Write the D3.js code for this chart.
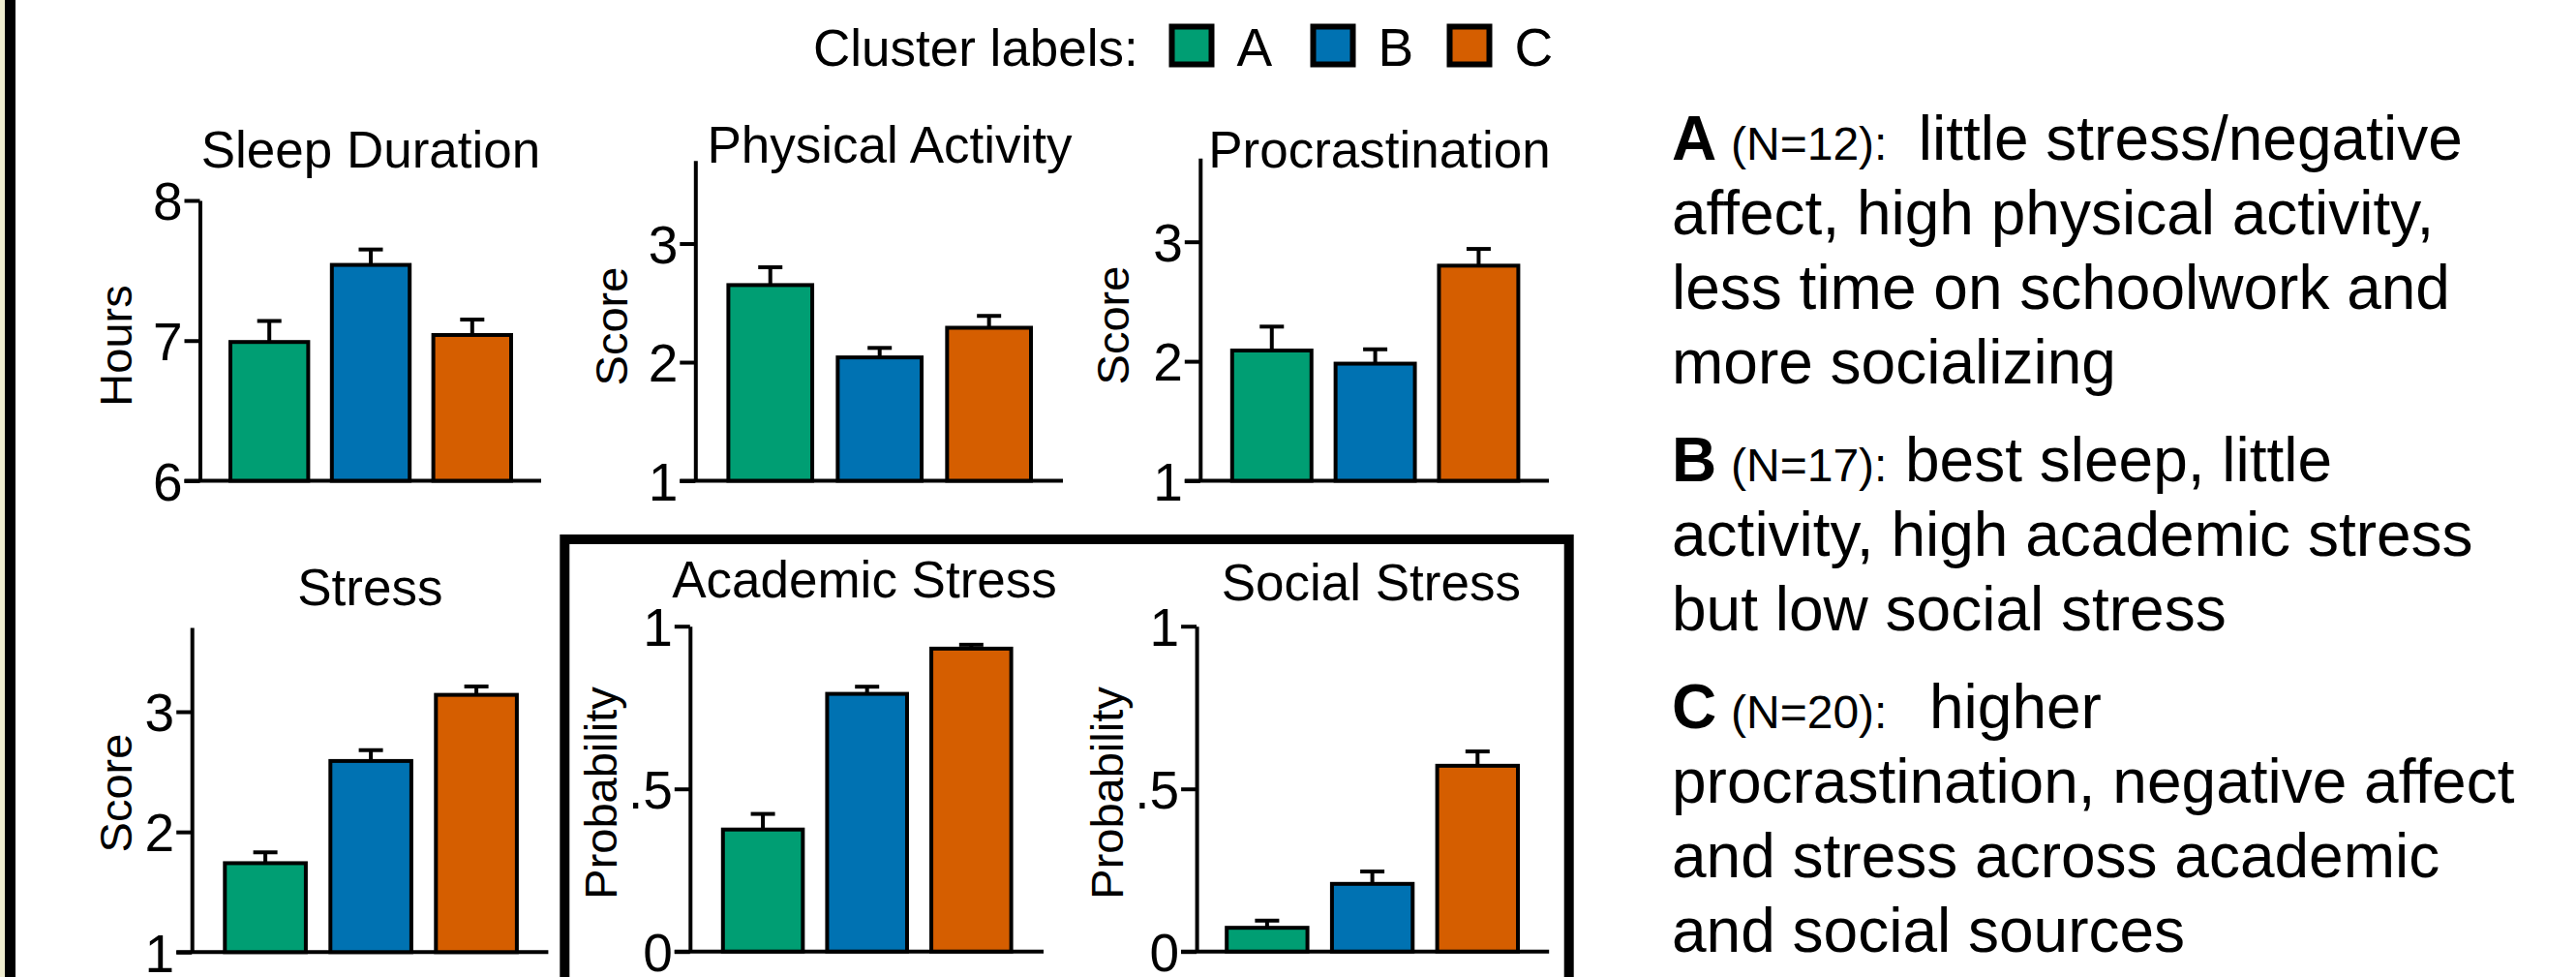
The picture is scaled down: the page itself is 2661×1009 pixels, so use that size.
<!DOCTYPE html>
<html>
<head>
<meta charset="utf-8">
<script src="https://cdn.jsdelivr.net/npm/d3@7"></script>
<style>
  html, body { margin: 0; padding: 0; background: #ffffff; }
  svg { display: block; font-family: "Liberation Sans", Arial, Helvetica, sans-serif; }
  .axis path, .axis line { stroke: #000; stroke-width: 4; }
  .axis text { fill: #000; font-size: 55px; }
</style>
</head>
<body>
<svg id="fig" width="2661" height="1009"></svg>
<script>
// ---- data ---------------------------------------------------------------
const clusters = ["A", "B", "C"];
const clusterSizes = [12, 17, 20];

// group means and standard errors, one entry per cluster (A, B, C)
const sleepHours = [6.99, 7.54, 7.04];
const sleepSem = [0.15, 0.11, 0.11];
const activityScore = [2.65, 2.04, 2.29];
const activitySem = [0.15, 0.08, 0.10];
const procrastinationScore = [2.09, 1.98, 2.80];
const procrastinationSem = [0.20, 0.12, 0.14];
const stressScore = [1.74, 2.59, 3.14];
const stressSem = [0.09, 0.09, 0.07];
const academicStressProb = [0.375, 0.792, 0.931];
const academicStressSem = [0.048, 0.022, 0.012];
const socialStressProb = [0.073, 0.208, 0.571];
const socialStressSem = [0.022, 0.038, 0.044];

// axis ticks
const hourTicks = [6, 7, 8];
const scoreTicks = [1, 2, 3];
const probTicks = [0, 0.5, 1];

// cluster descriptions: first line follows the "X (N=..):" lead-in
const clusterNotes = [
  ["little stress/negative", "affect, high physical activity,", "less time on schoolwork and", "more socializing"],
  ["best sleep, little", "activity, high academic stress", "but low social stress"],
  ["higher", "procrastination, negative affect", "and stress across academic", "and social sources"]
];

// ---- styling / layout ---------------------------------------------------
const palette = { A: "#009e73", B: "#0072b2", C: "#d55e00" };
const fmtPlain = d => String(d);
const fmtProb = d => String(d).replace(/^0\./, ".");

const panels = [
  { title: "Sleep Duration", label: "Hours", means: sleepHours, sems: sleepSem,
    domain: [6, 8], ticks: hourTicks, fmt: fmtPlain,
    L: { axisX: 206.5, yBottom: 496.5, yTop: 207, barL: 238, barR: 528, xEnd: 559,
         titleX: 383, titleY: 173, labelX: 120, labelY: 357 } },
  { title: "Physical Activity", label: "Score", means: activityScore, sems: activitySem,
    domain: [1, 3.7], ticks: scoreTicks, fmt: fmtPlain,
    L: { axisX: 718.3, yBottom: 496.5, yTop: 165.8, barL: 752.4, barR: 1065, xEnd: 1098,
         titleX: 919, titleY: 168, labelX: 632, labelY: 337 } },
  { title: "Procrastination", label: "Score", means: procrastinationScore, sems: procrastinationSem,
    domain: [1, 3.7], ticks: scoreTicks, fmt: fmtPlain,
    L: { axisX: 1239.8, yBottom: 496.5, yTop: 163.3, barL: 1272.8, barR: 1568.4, xEnd: 1600,
         titleX: 1425, titleY: 172.7, labelX: 1150, labelY: 336 } },
  { title: "Stress", label: "Score", means: stressScore, sems: stressSem,
    domain: [1, 3.7], ticks: scoreTicks, fmt: fmtPlain,
    L: { axisX: 198.2, yBottom: 983.3, yTop: 648.1, barL: 232.3, barR: 533.9, xEnd: 566.4,
         titleX: 382.3, titleY: 625, labelX: 120, labelY: 819 } },
  { title: "Academic Stress", label: "Probability", means: academicStressProb, sems: academicStressSem,
    domain: [0, 1], ticks: probTicks, fmt: fmtProb,
    L: { axisX: 712.8, yBottom: 982.7, yTop: 646.7, barL: 746.8, barR: 1044.6, xEnd: 1078,
         titleX: 893, titleY: 616.7, labelX: 621, labelY: 819 } },
  { title: "Social Stress", label: "Probability", means: socialStressProb, sems: socialStressSem,
    domain: [0, 1], ticks: probTicks, fmt: fmtProb,
    L: { axisX: 1236.1, yBottom: 982.7, yTop: 646.7, barL: 1267.2, barR: 1568, xEnd: 1600.2,
         titleX: 1416.3, titleY: 620, labelX: 1143.5, labelY: 819 } }
];

const TICK = 16;       // tick length
const CAP = 25;        // error-bar cap width
const STROKE = 4;

const svg = d3.select("#fig");

// white page with the dark rule on the left edge
svg.append("rect").attr("width", 2661).attr("height", 1009).attr("fill", "#ffffff");
svg.append("rect").attr("x", 0).attr("y", 0).attr("width", 5).attr("height", 1009).attr("fill", "#efedcf");
svg.append("rect").attr("x", 5).attr("y", 0).attr("width", 11).attr("height", 1009).attr("fill", "#000");

// frame grouping the two stress-source panels
svg.append("rect")
  .attr("x", 583.3).attr("y", 557).attr("width", 1037.4).attr("height", 457)
  .attr("fill", "none").attr("stroke", "#000").attr("stroke-width", 10);

// ---- panels -------------------------------------------------------------
panels.forEach(p => {
  const L = p.L;
  const g = svg.append("g");
  const rows = clusters.map((c, i) => ({ c, m: p.means[i], e: p.sems[i] }));

  const y = d3.scaleLinear().domain(p.domain).range([L.yBottom, L.yTop]);
  const x = d3.scaleBand().domain(clusters).range([L.barL, L.barR])
    .paddingInner(0.233).paddingOuter(0);

  // x baseline, running from the tick start to past the last bar
  g.append("line")
    .attr("x1", L.axisX - TICK).attr("x2", L.xEnd)
    .attr("y1", y(p.domain[0])).attr("y2", y(p.domain[0]))
    .attr("stroke", "#000").attr("stroke-width", STROKE);

  // y axis
  const ax = g.append("g").attr("class", "axis")
    .attr("transform", `translate(${L.axisX},0)`)
    .call(d3.axisLeft(y).tickValues(p.ticks).tickFormat(p.fmt)
      .tickSize(TICK).tickSizeOuter(0).tickPadding(2));
  ax.attr("font-size", null).attr("font-family", null);
  ax.selectAll("text").attr("dy", "0.36em");

  // error bars (upper half only)
  g.selectAll("line.err").data(rows).join("line").attr("class", "err")
    .attr("x1", d => x(d.c) + x.bandwidth() / 2).attr("x2", d => x(d.c) + x.bandwidth() / 2)
    .attr("y1", d => y(d.m)).attr("y2", d => y(d.m + d.e))
    .attr("stroke", "#000").attr("stroke-width", STROKE);
  g.selectAll("line.cap").data(rows).join("line").attr("class", "cap")
    .attr("x1", d => x(d.c) + x.bandwidth() / 2 - CAP / 2)
    .attr("x2", d => x(d.c) + x.bandwidth() / 2 + CAP / 2)
    .attr("y1", d => y(d.m + d.e)).attr("y2", d => y(d.m + d.e))
    .attr("stroke", "#000").attr("stroke-width", STROKE);

  // bars
  g.selectAll("rect.bar").data(rows).join("rect").attr("class", "bar")
    .attr("x", d => x(d.c)).attr("width", x.bandwidth())
    .attr("y", d => y(d.m)).attr("height", d => y(p.domain[0]) - y(d.m))
    .attr("fill", d => palette[d.c]).attr("stroke", "#000").attr("stroke-width", STROKE);

  // title and axis label
  g.append("text").attr("x", L.titleX).attr("y", L.titleY)
    .attr("text-anchor", "middle").attr("font-size", 53).text(p.title);
  g.append("text")
    .attr("transform", `translate(${L.labelX},${L.labelY}) rotate(-90)`)
    .attr("text-anchor", "middle").attr("dy", "0.35em").attr("font-size", 47).text(p.label);
});

// ---- legend -------------------------------------------------------------
const legend = svg.append("g");
legend.append("text").attr("x", 840).attr("y", 68).attr("font-size", 53).text("Cluster labels:");
const swatchX = { A: 1210.5, B: 1356.5, C: 1497.5 };
clusters.forEach(c => {
  legend.append("rect")
    .attr("x", swatchX[c]).attr("y", 27.5).attr("width", 41).attr("height", 39)
    .attr("fill", palette[c]).attr("stroke", "#000").attr("stroke-width", 6);
  legend.append("text").attr("x", swatchX[c] + 67).attr("y", 68)
    .attr("font-size", 55).text(c);
});

// ---- cluster descriptions -----------------------------------------------
const notes = svg.append("g");
const paraTop = [164.5, 497, 752];
const leadGap = [1981.7, 1968, 1993];
const LINE = 77;
clusters.forEach((c, i) => {
  const lines = clusterNotes[i];
  const first = notes.append("text").attr("y", paraTop[i]).attr("font-size", 64);
  first.append("tspan").attr("x", 1727).attr("font-weight", "bold").text(c);
  first.append("tspan").attr("x", 1788).attr("font-size", 48).text(`(N=${clusterSizes[i]}):`);
  first.append("tspan").attr("x", leadGap[i]).text(lines[0]);
  lines.slice(1).forEach((t, k) => {
    notes.append("text").attr("x", 1727).attr("y", paraTop[i] + (k + 1) * LINE)
      .attr("font-size", 64).text(t);
  });
});
</script>
</body>
</html>
